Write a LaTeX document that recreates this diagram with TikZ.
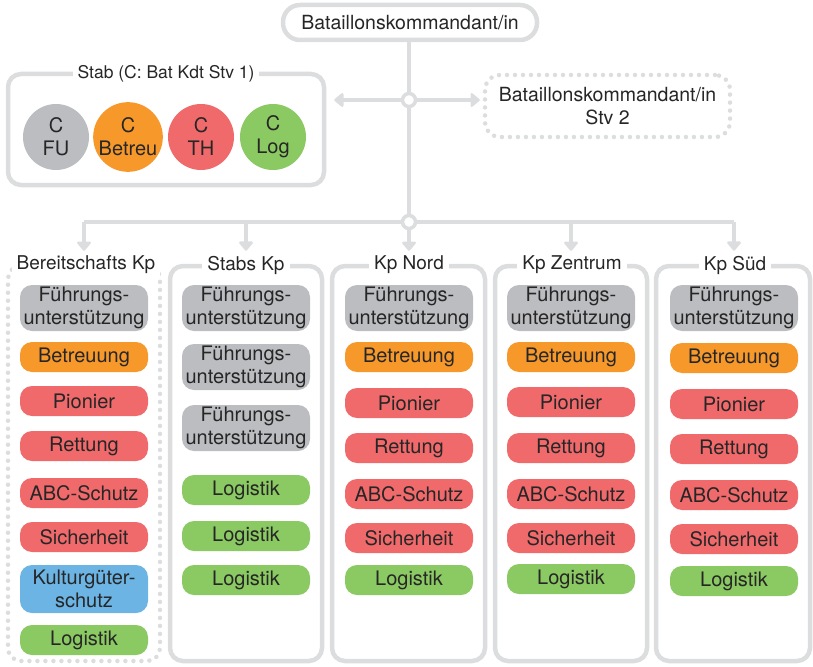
\documentclass[tikz,border=0pt]{standalone}
\usepackage{fontspec}
\setmainfont{TeX Gyre Heros}
\usetikzlibrary{arrows.meta}
\definecolor{lin}{HTML}{DCDDDE}
\definecolor{cgray}{HTML}{BCBDC0}
\definecolor{corange}{HTML}{F7982B}
\definecolor{cred}{HTML}{F0696B}
\definecolor{cgreen}{HTML}{8BC963}
\definecolor{cblue}{HTML}{6CB4E4}
\definecolor{txt}{HTML}{262626}
\tikzset{
  frame/.style={draw=lin, line width=4.5pt, rounded corners=13pt, inner sep=0pt},
  dotframe/.style={draw=lin, line width=4.5pt, rounded corners=13pt, inner sep=0pt, dash pattern=on 0pt off 8pt, line cap=round},
  hdr/.style={fill=white, inner xsep=5pt, inner ysep=3pt, text=txt, font=\fontsize{19}{23}\selectfont},
  itm/.style={rounded corners=12pt, minimum width=128pt, minimum height=30pt, inner sep=0pt, align=center, text=txt},
  fu/.style={itm, fill=cgray, minimum height=46pt},
  be/.style={itm, fill=corange},
  rd/.style={itm, fill=cred},
  gr/.style={itm, fill=cgreen},
  bl/.style={itm, fill=cblue, minimum height=48pt},
  circ/.style={circle, minimum size=66pt, inner sep=0pt, align=center, text=txt},
  junc/.style={circle, draw=lin, fill=white, line width=3.5pt, minimum size=13pt, inner sep=0pt},
  conn/.style={draw=lin, line width=4.5pt},
  arr/.style={conn, -{Triangle[width=16pt,length=10pt,round]}},
}
\begin{document}
\begin{tikzpicture}[x=1pt, y=-1pt, font=\fontsize{20}{23}\selectfont]
\useasboundingbox (0,0) rectangle (813,666);

% top
\node[frame, rounded corners=17pt, minimum width=254pt, minimum height=35pt, text=txt, font=\fontsize{19.5}{23}\selectfont] (top) at (410,22.5) {Bataillonskommandant/in};

% stab
\node[frame, minimum width=316pt, minimum height=111pt] (stab) at (166,129.5) {};
\node[hdr, font=\fontsize{17.5}{21}\selectfont] (stabh) at (166,74) {Stab (C: Bat Kdt Stv 1)};
\node[circ, fill=cgray] (cfu) at (56,137) {C\\FU};
\node[circ, fill=corange] (cbe) at (128,137) {C\\Betreu};
\node[circ, fill=cred] (cth) at (201,137) {C\\TH};
\node[circ, fill=cgreen] (clo) at (273,137) {C\\Log};

% stv 2
\node[dotframe, rounded corners=15pt, minimum width=245pt, minimum height=62pt, align=center, text=txt, font=\fontsize{19.5}{23}\selectfont] (stv) at (607.5,106) {Bataillonskommandant/in\\Stv 2};

% junctions
\node[junc] (j1) at (409,100) {};
\node[junc] (j2) at (409,222) {};

\draw[conn] (j1 |- top.south) -- (j1);
\draw[conn] (j1) -- (j2);
\draw[arr, shorten >=8pt] (j1) -- (j1 -| stab.east);
\draw[arr, shorten >=3pt] (j1) -- (j1 -| stv.west);

% columns
\node[dotframe, minimum width=152pt, minimum height=395pt] (fB) at (84,463.5) {};
\node[frame, minimum width=152pt, minimum height=395pt] (fS) at (246,463.5) {};
\node[frame, minimum width=153pt, minimum height=395pt] (fN) at (408.5,463.5) {};
\node[frame, minimum width=152pt, minimum height=395pt] (fZ) at (571,463.5) {};
\node[frame, minimum width=154pt, minimum height=395pt] (fD) at (733,463.5) {};

\node[hdr] (hB) at (86,265) {Bereitschafts Kp};
\node[hdr] (hS) at (246,265) {Stabs Kp};
\node[hdr] (hN) at (409,265) {Kp Nord};
\node[hdr] (hZ) at (572,265) {Kp Zentrum};
\node[hdr] (hD) at (735,265) {Kp Süd};

\coordinate (c1) at (84,222);
\coordinate (c2) at (246,222);
\coordinate (c4) at (571,222);
\coordinate (c5) at (734,222);
\draw[conn] (c1) -- (j2);
\draw[conn] (j2) -- (c5);
\draw[arr, shorten >=2pt] (c1) -- (c1 |- hB.north);
\draw[arr, shorten >=2pt] (c2) -- (hS.north);
\draw[arr, shorten >=2pt] (j2) -- (hN.north);
\draw[arr, shorten >=2pt] (c4) -- (c4 |- hZ.north);
\draw[arr, shorten >=2pt] (c5) -- (c5 |- hD.north);

% items
\foreach \y/\s/\t [count=\i] in {308/fu/{Führungs-\\unterstützung}, 357/be/Betreuung, 401/rd/Pionier, 446/rd/Rettung, 493/rd/ABC-Schutz, 537/rd/Sicherheit, 589/bl/{Kulturgüter-\\schutz}, 640/gr/Logistik}
  \node[\s] (b\i) at (84,\y) {\t};

\foreach \y/\s/\t [count=\i] in {308/fu/{Führungs-\\unterstützung}, 367/fu/{Führungs-\\unterstützung}, 428/fu/{Führungs-\\unterstützung}, 490/gr/Logistik, 536/gr/Logistik, 580/gr/Logistik}
  \node[\s] (s\i) at (246,\y) {\t};

\foreach \y/\s/\t [count=\i] in {308/fu/{Führungs-\\unterstützung}, 357/be/Betreuung, 403/rd/Pionier, 448/rd/Rettung, 494/rd/ABC-Schutz, 538/rd/Sicherheit, 580/gr/Logistik}
  \node[\s] (n\i) at (409,\y) {\t};

\foreach \y/\s/\t [count=\i] in {308/fu/{Führungs-\\unterstützung}, 357/be/Betreuung, 402/rd/Pionier, 448/rd/Rettung, 494/rd/ABC-Schutz, 538/rd/Sicherheit, 579/gr/Logistik}
  \node[\s] (z\i) at (571,\y) {\t};

\foreach \y/\s/\t [count=\i] in {308/fu/{Führungs-\\unterstützung}, 358/be/Betreuung, 404/rd/Pionier, 449/rd/Rettung, 495/rd/ABC-Schutz, 539/rd/Sicherheit, 581/gr/Logistik}
  \node[\s] (d\i) at (734,\y) {\t};
\end{tikzpicture}
\end{document}
